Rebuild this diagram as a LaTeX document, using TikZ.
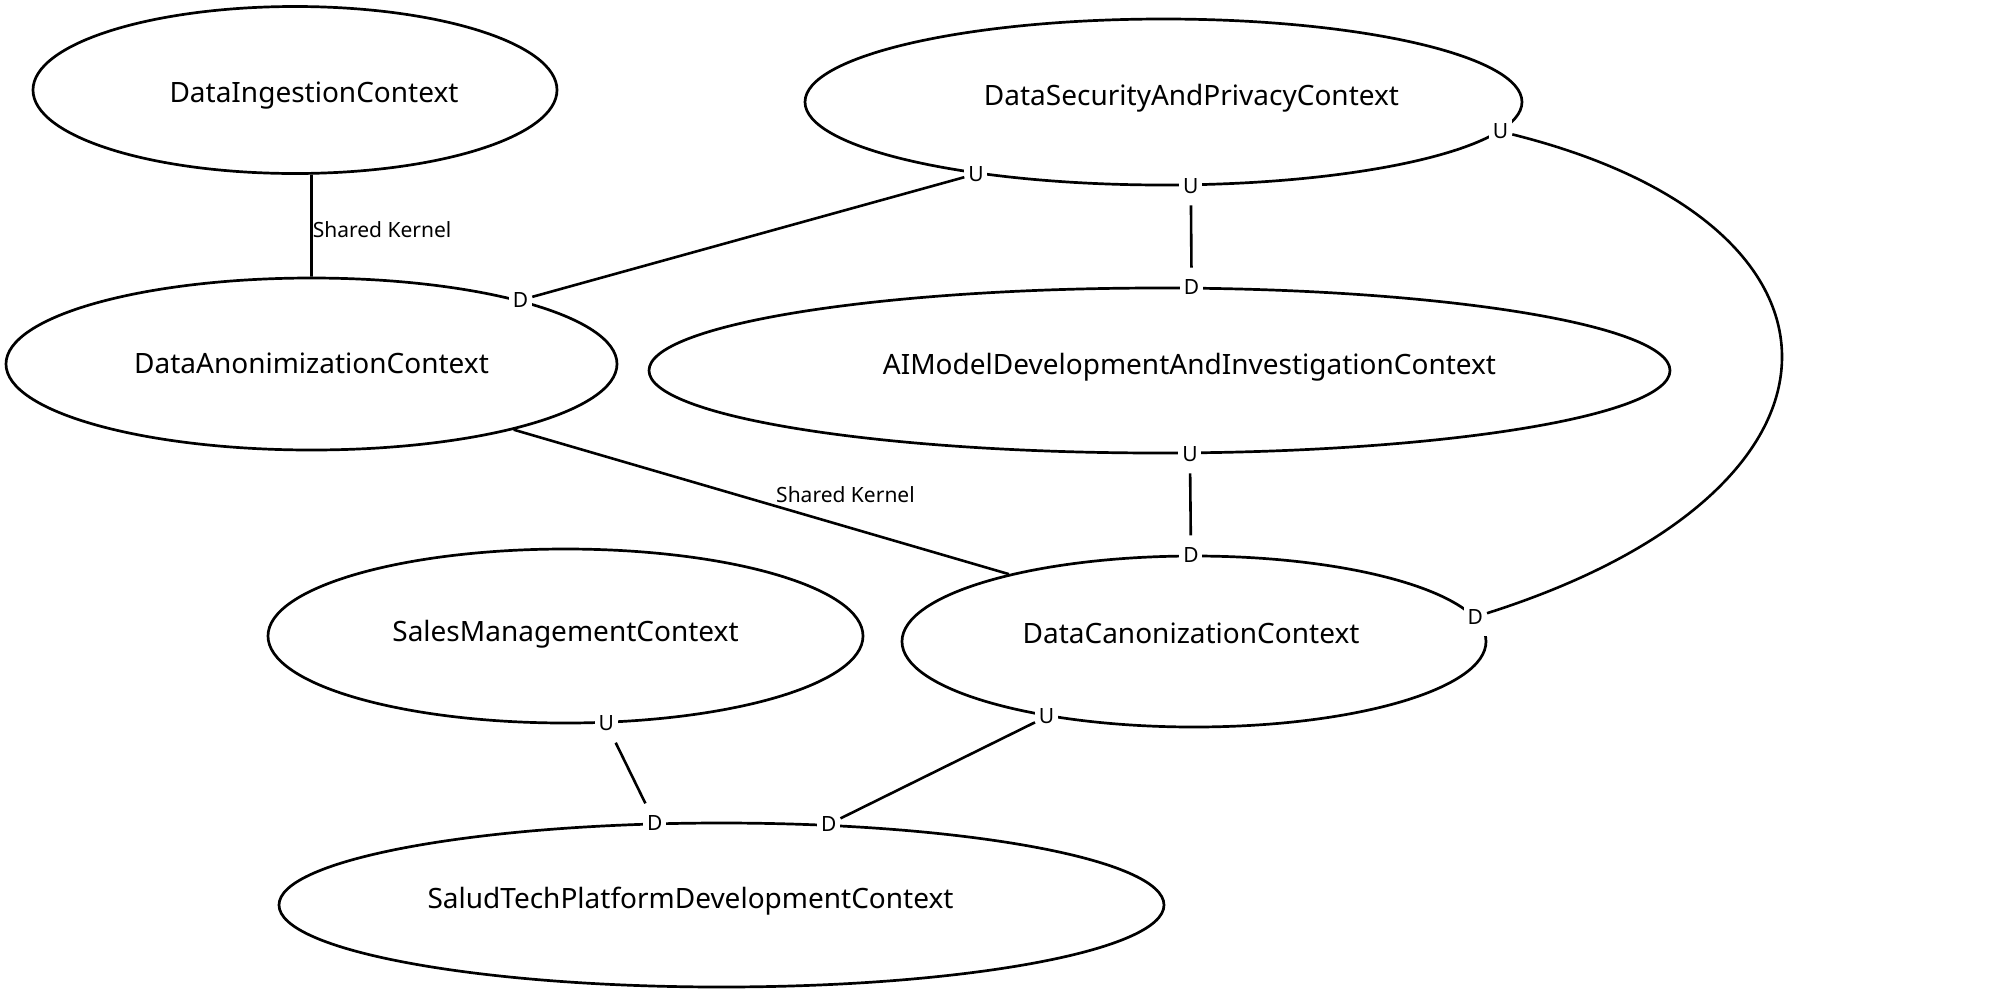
\documentclass[tikz,border=0pt]{standalone}
\usepackage{fontspec}
\setmainfont{Noto Sans}
\usetikzlibrary{shapes.geometric}
\tikzset{
  {bounded context/.style} ={ellipse, draw, line width=2.7pt, inner sep=0},
  {context name/.style} ={font=\fontsize{28}{34}\selectfont, inner sep=0},
  {role/.style} ={rectangle, fill=white, inner sep=0,
                minimum width=23pt, minimum height=38pt,
                font=\fontsize{21}{25}\selectfont},
  {relation/.style} ={draw, line width=2.6pt},
  {kernel/.style} ={font=\fontsize{21}{25}\selectfont, inner sep=0},
}

\begin{document}
\begin{tikzpicture}[x=1pt,y=-1pt]
\useasboundingbox (0,0) rectangle (2000,994);
% bounded contexts
\node[bounded context, minimum width=524pt, minimum height=167pt,
      label={[context name, xshift=19pt, yshift=-6pt]center:DataIngestionContext}] (ingest) at (295,90) {};
\node[bounded context, minimum width=717pt, minimum height=166pt,
      label={[context name, xshift=28pt, yshift=4pt]center:DataSecurityAndPrivacyContext}] (secpriv) at (1163.5,102) {};
\node[bounded context, minimum width=611pt, minimum height=172pt,
      label={[context name, yshift=1pt]center:DataAnonimizationContext}] (anonym) at (311.5,364) {};
\node[bounded context, minimum width=1021pt, minimum height=165pt,
      label={[context name, xshift=30pt, yshift=3pt]center:AIModelDevelopmentAndInvestigationContext}] (aimodel) at (1159.5,370.5) {};
\node[bounded context, minimum width=595pt, minimum height=174pt,
      label={[context name, yshift=2pt]center:SalesManagementContext}] (sales) at (565.5,636) {};
\node[bounded context, minimum width=584pt, minimum height=171pt,
      label={[context name, xshift=-3pt, yshift=8pt]center:DataCanonizationContext}] (canon) at (1194,641.5) {};
\node[bounded context, minimum width=885pt, minimum height=164pt,
      label={[context name, xshift=-31pt, yshift=4pt]center:SaludTechPlatformDevelopmentContext}] (saludtech) at (721.5,905) {};
% upstream / downstream roles
\node[role] (dAnon) at (anonym.17.5) {D};
\node[role] (uSecA) at (secpriv.201) {U};
\node[role] (uSecB) at (secpriv.288.8) {U};
\node[role] (uSecC) at (secpriv.355.5) {U};
\node[role] (dAi) at (aimodel.69.6) {D};
\node[role] (uAi) at (aimodel.290.9) {U};
\node[role] (dCanonA) at (canon.92) {D};
\node[role] (dCanonB) at (canon.5.5) {D};
\node[role] (uCanon) at (canon.207) {U};
\node[role] (uSales) at (sales.295.4) {U};
\node[role] (dSaludA) at (saludtech.129.5) {D};
\node[role] (dSaludB) at (saludtech.37.6) {D};
\path[relation]
        (ingest.281.6) edge node[kernel, right, pos=.54] {Shared Kernel} (anonym.north)
        (anonym.342.9) edge node[kernel, above=22pt, pos=.67] {Shared Kernel} (canon.160.7)
        (dAnon) edge (uSecA)
        (uSecB) edge (dAi)
        (uAi) edge (dCanonA)
        (uSales) edge (dSaludA)
        (uCanon) edge (dSaludB)
        ;
\draw[relation] (uSecC) .. controls (1876,225) and (1876,490) .. (dCanonB);
\end{tikzpicture}
\end{document}
